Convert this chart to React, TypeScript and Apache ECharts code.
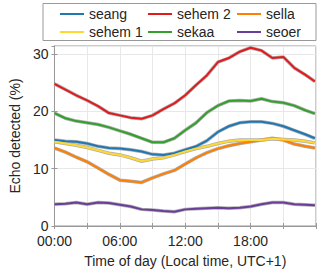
import React, { useEffect, useRef } from "react";
import * as echarts from "echarts";

const hours = [0, 1, 2, 3, 4, 5, 6, 7, 8, 9, 10, 11, 12, 13, 14, 15, 16, 17, 18, 19, 20, 21, 22, 23, 23.9];
const seang = [15.0, 14.8, 14.7, 14.4, 13.9, 13.6, 13.5, 13.3, 13.0, 12.5, 12.4, 12.7, 13.3, 13.9, 14.9, 16.4, 17.4, 18.0, 18.2, 18.2, 17.9, 17.4, 16.7, 16.0, 15.3];
const sehem2 = [24.8, 23.8, 22.8, 21.9, 20.9, 19.7, 19.3, 18.9, 18.7, 19.3, 20.4, 21.4, 22.8, 24.6, 26.3, 28.6, 29.3, 30.4, 31.1, 30.6, 29.3, 29.5, 27.6, 26.4, 25.2];
const sella = [13.6, 12.9, 12.0, 11.2, 10.1, 9.0, 8.0, 7.8, 7.6, 8.4, 9.1, 9.7, 10.8, 11.9, 12.8, 13.5, 14.0, 14.4, 14.7, 15.0, 15.3, 15.0, 14.3, 13.9, 13.6];
const sehem1 = [14.7, 14.4, 14.1, 13.7, 13.2, 12.7, 12.4, 11.9, 11.3, 11.7, 11.9, 12.4, 13.0, 13.5, 13.9, 14.4, 14.8, 15.0, 15.0, 15.0, 15.2, 15.1, 15.0, 14.8, 14.5];
const sekaa = [19.7, 18.8, 18.3, 18.0, 17.7, 17.2, 16.6, 16.0, 15.3, 14.6, 14.6, 15.3, 16.7, 18.0, 19.8, 21.0, 21.8, 21.9, 21.8, 22.2, 21.7, 21.5, 21.0, 20.2, 19.6];
const seoer = [3.8, 3.9, 4.1, 3.8, 4.1, 4.0, 3.7, 3.4, 2.9, 2.8, 2.6, 2.5, 2.9, 3.0, 3.1, 3.2, 3.1, 3.2, 3.4, 3.8, 4.1, 4.1, 3.8, 3.7, 3.6];

const seriesDefs = [
  { name: "seang", data: seang, color: "#1f78b4" },
  { name: "sehem 2", data: sehem2, color: "#e31a1c" },
  { name: "sella", data: sella, color: "#ff7f00" },
  { name: "sehem 1", data: sehem1, color: "#ffd92f" },
  { name: "sekaa", data: sekaa, color: "#33a02c" },
  { name: "seoer", data: seoer, color: "#6a3d9a" },
];

const TEXT = "#262626";
const AXIS = "#999999";

export default function App() {
  const ref = useRef<HTMLDivElement>(null);
  useEffect(() => {
    if (!ref.current) return;
    const chart = echarts.init(ref.current, undefined, { renderer: "svg" });
    const pairs = (arr: number[]) => hours.map((h, i) => [h, arr[i]]);
    const bands = seriesDefs.map((s) => ({
      name: s.name + "_band",
      type: "line",
      data: pairs(s.data),
      symbol: "none",
      silent: true,
      lineStyle: { color: "#b0b0b0", width: 3.5 },
      z: 2,
    }));
    const lines = seriesDefs.map((s) => ({
      name: s.name,
      type: "line",
      data: pairs(s.data),
      symbol: "none",
      color: s.color,
      lineStyle: { color: s.color, width: 2 },
      z: 3,
    }));
    const legendBase = {
      orient: "vertical",
      top: 7,
      icon: "rect",
      itemWidth: 24,
      itemHeight: 2,
      itemGap: 4,
      textStyle: { fontSize: 14, color: TEXT, fontFamily: "Liberation Sans", lineHeight: 14 },
      padding: 0,
    };
    chart.setOption({
      animation: false,
      textStyle: { fontFamily: "Liberation Sans" },
      graphic: [
        {
          type: "rect",
          shape: { x: 43, y: 3.5, width: 273, height: 37 },
          style: { fill: "#fff", stroke: AXIS, lineWidth: 1 },
          z: -1,
        },
      ],
      legend: [
        { ...legendBase, left: 60, data: ["seang", "sehem 1"] },
        { ...legendBase, left: 148, data: ["sehem 2", "sekaa"] },
        { ...legendBase, left: 237, data: ["sella", "seoer"] },
      ],
      grid: {
        left: 42.5,
        right: 4,
        top: 46,
        bottom: 46,
        show: true,
        borderColor: AXIS,
        borderWidth: 1,
        backgroundColor: "transparent",
      },
      xAxis: [
        {
          type: "value",
          min: 0,
          max: 24,
          interval: 3,
          name: "Time of day (Local time, UTC+1)",
          nameLocation: "middle",
          nameGap: 28,
          nameTextStyle: { fontSize: 14, color: TEXT },
          axisLine: { lineStyle: { color: AXIS } },
          axisTick: { inside: true, length: 3, lineStyle: { color: AXIS } },
          axisLabel: {
            fontSize: 14,
            color: TEXT,
            margin: 8,
            formatter: (v: number) =>
              v % 6 === 0 && v < 24 ? String(v).padStart(2, "0") + ":00" : "",
          },
          splitLine: { show: true, lineStyle: { color: "#e8e8e8" } },
        },
        {
          type: "value",
          position: "top",
          min: 0,
          max: 24,
          interval: 3,
          axisLine: { show: true, lineStyle: { color: AXIS } },
          axisTick: { inside: true, length: 3, lineStyle: { color: AXIS } },
          axisLabel: { show: false },
          splitLine: { show: false },
        },
      ],
      yAxis: [
        {
          type: "value",
          min: 0,
          max: 31.4,
          interval: 10,
          name: "Echo detected (%)",
          nameLocation: "middle",
          nameGap: 24,
          nameTextStyle: { fontSize: 14, color: TEXT },
          axisLine: { show: true, lineStyle: { color: AXIS } },
          axisTick: { inside: true, length: 3, lineStyle: { color: AXIS } },
          axisLabel: {
            fontSize: 14,
            color: TEXT,
            margin: 6,
            showMaxLabel: false,
            formatter: (v: number) => (v % 10 === 0 ? String(v) : ""),
          },
          splitLine: { show: true, lineStyle: { color: "#e8e8e8" } },
        },
        {
          type: "value",
          position: "right",
          min: 0,
          max: 31.4,
          interval: 10,
          axisLine: { show: true, lineStyle: { color: AXIS } },
          axisTick: { inside: true, length: 3, lineStyle: { color: AXIS } },
          axisLabel: { show: false },
          splitLine: { show: false },
        },
      ],
      series: [...bands, ...lines],
    });
    return () => chart.dispose();
  }, []);
  return <div ref={ref} style={{ width: 320, height: 273, position: "absolute", left: 0, top: 0 }} />;
}
